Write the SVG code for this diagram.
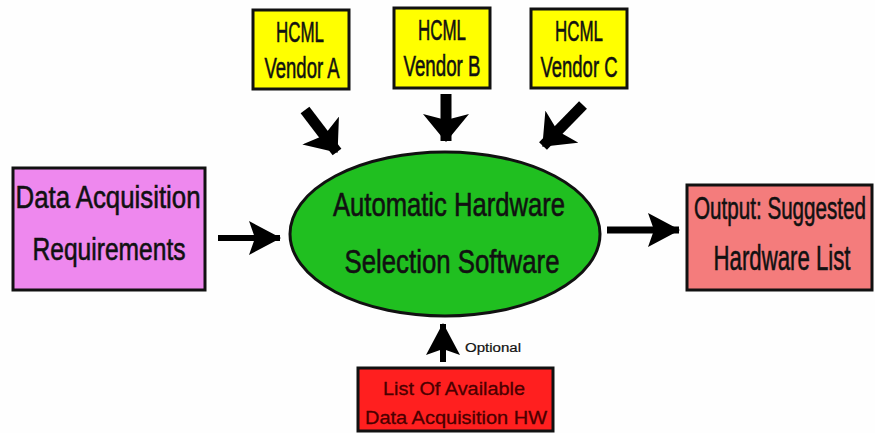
<svg xmlns="http://www.w3.org/2000/svg" width="875" height="433" viewBox="0 0 875 433">
<style>
.box{stroke:#111;stroke-width:3}
.t{font-family:"Liberation Sans",Arial,sans-serif;fill:#111;stroke:#111;stroke-width:0.6;text-anchor:middle}
.v{font-size:30px}
.arr{stroke:#000;fill:none}
</style>
<defs>
<marker id="big" markerUnits="userSpaceOnUse" markerWidth="28" markerHeight="46" viewBox="0 0 28 46" refX="27" refY="23" orient="auto">
<path d="M0,0 L28,23 L0,46 L6,23 z" fill="#000"/>
</marker>
<marker id="small" markerUnits="userSpaceOnUse" markerWidth="32" markerHeight="34" viewBox="0 0 32 34" refX="31" refY="17" orient="auto">
<path d="M0,0 L32,17 L0,34 L6,17 z" fill="#000"/>
</marker>
</defs>
<rect width="875" height="433" fill="#fefefe"/>
<g id="connectors">
<line class="arr" x1="305" y1="110" x2="337" y2="152" stroke-width="11" marker-end="url(#big)"/>
<line class="arr" x1="446" y1="94" x2="446" y2="141" stroke-width="11" marker-end="url(#big)"/>
<line class="arr" x1="583" y1="105" x2="543" y2="146" stroke-width="11" marker-end="url(#big)"/>
<line class="arr" x1="218" y1="238" x2="280" y2="238" stroke-width="6" marker-end="url(#small)"/>
<line class="arr" x1="607" y1="230" x2="679" y2="230" stroke-width="7" marker-end="url(#small)"/>
<line class="arr" x1="443" y1="362" x2="443" y2="324" stroke-width="6" marker-end="url(#small)"/>
<text class="t" x="465" y="352" style="font-size:12px;text-anchor:start;stroke-width:0.2" textLength="56" lengthAdjust="spacingAndGlyphs">Optional</text>
</g>
<g id="vendorA">
<rect class="box" x="253" y="10" width="96" height="79" fill="#ffff00"/>
<text class="t v" x="300" y="42" textLength="48" lengthAdjust="spacingAndGlyphs">HCML</text>
<text class="t v" x="302" y="78" textLength="75" lengthAdjust="spacingAndGlyphs">Vendor A</text>
</g>
<g id="vendorB">
<rect class="box" x="394" y="8" width="96" height="80" fill="#ffff00"/>
<text class="t v" x="442" y="40" textLength="48" lengthAdjust="spacingAndGlyphs">HCML</text>
<text class="t v" x="442" y="76" textLength="77" lengthAdjust="spacingAndGlyphs">Vendor B</text>
</g>
<g id="vendorC">
<rect class="box" x="531" y="9" width="96" height="79" fill="#ffff00"/>
<text class="t v" x="579" y="41" textLength="48" lengthAdjust="spacingAndGlyphs">HCML</text>
<text class="t v" x="579" y="77" textLength="77" lengthAdjust="spacingAndGlyphs">Vendor C</text>
</g>
<g id="requirements">
<rect class="box" x="13" y="168" width="192" height="122" fill="#ee88ee"/>
<text class="t" x="108" y="208" style="font-size:32px" textLength="185" lengthAdjust="spacingAndGlyphs">Data Acquisition</text>
<text class="t" x="109" y="260" style="font-size:31px" textLength="153" lengthAdjust="spacingAndGlyphs">Requirements</text>
</g>
<g id="software">
<ellipse cx="445" cy="234" rx="155" ry="82" fill="#20bf20" stroke="#111" stroke-width="3"/>
<text class="t" x="449" y="216" style="font-size:33px" textLength="232" lengthAdjust="spacingAndGlyphs">Automatic Hardware</text>
<text class="t" x="452" y="273" style="font-size:33px" textLength="215" lengthAdjust="spacingAndGlyphs">Selection Software</text>
</g>
<g id="output">
<rect class="box" x="687" y="185" width="185" height="105" fill="#f47c7c"/>
<text class="t" transform="translate(780,219) scale(0.665,1)" x="0" y="0" style="font-size:31px">Output: Suggested</text>
<text class="t" transform="translate(782,270) scale(0.617,1)" x="0" y="0" style="font-size:36px">Hardware List</text>
</g>
<g id="available">
<rect class="box" x="358" y="368" width="195" height="63" fill="#ff1f1f"/>
<text class="t" x="454" y="395" style="font-size:19px;fill:#4a0000;stroke:#4a0000;stroke-width:0.3" textLength="142" lengthAdjust="spacingAndGlyphs">List Of Available</text>
<text class="t" x="456" y="424" style="font-size:19px;fill:#4a0000;stroke:#4a0000;stroke-width:0.3" textLength="182" lengthAdjust="spacingAndGlyphs">Data Acquisition HW</text>
</g>
</svg>
